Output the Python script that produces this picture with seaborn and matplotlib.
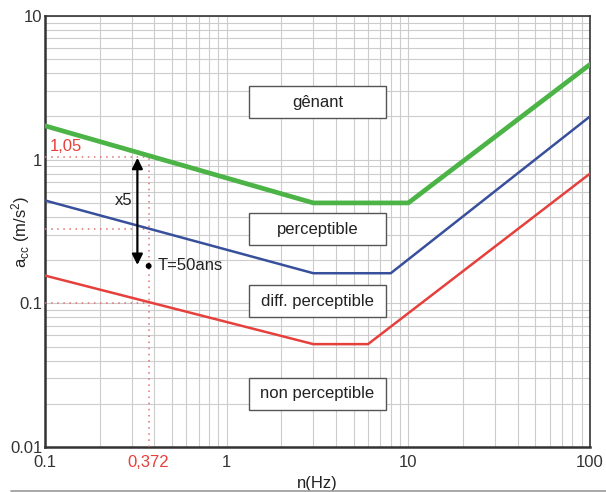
import matplotlib
matplotlib.use("Agg")
import matplotlib.pyplot as plt
import seaborn as sns
import pandas as pd
from matplotlib.patches import Rectangle
from matplotlib.lines import Line2D
from matplotlib.ticker import NullFormatter

# ---- data ----
freq_green = [0.1, 3.0, 10.0, 100.0]
acc_green = [1.72, 0.5, 0.5, 4.6]
freq_blue = [0.1, 3.0, 8.0, 100.0]
acc_blue = [0.52, 0.162, 0.162, 2.0]
freq_red = [0.1, 3.0, 6.0, 100.0]
acc_red = [0.156, 0.052, 0.052, 0.8]

zone_labels = ["gênant", "perceptible", "diff. perceptible", "non perceptible"]
x_ticks = [0.1, 0.372, 1, 10, 100]
x_ticklabels = ["0.1", "0,372", "1", "10", "100"]
y_ticks = [0.01, 0.1, 1, 10]
y_ticklabels = ["0.01", "0.1", "1", "10"]
ref_freq = 0.372
ref_acc = [1.05, 0.331, 0.1]
dot_acc = 0.182

sns.set_style("white")
plt.rcParams["font.family"] = ["Liberation Sans", "DejaVu Sans"]
plt.rcParams["mathtext.fontset"] = "custom"
plt.rcParams["mathtext.rm"] = "Liberation Sans"
plt.rcParams["mathtext.it"] = "Liberation Sans:italic"

fig = plt.figure(figsize=(6.06, 4.92), dpi=100)
ax = fig.add_axes([45/606, 1-447/492, 545/606, 431/492])
ax.set_xscale("log")
ax.set_yscale("log")

green = "#4cb447"
blue = "#38509b"
red = "#e6403c"
dot_red = "#e07070"

df_g = pd.DataFrame({"n": freq_green, "a": acc_green})
df_b = pd.DataFrame({"n": freq_blue, "a": acc_blue})
df_r = pd.DataFrame({"n": freq_red, "a": acc_red})
sns.lineplot(data=df_g, x="n", y="a", sort=False, color=green, lw=3.4, ax=ax, zorder=5)
sns.lineplot(data=df_b, x="n", y="a", sort=False, color=blue, lw=1.8, ax=ax, zorder=5)
sns.lineplot(data=df_r, x="n", y="a", sort=False, color=red, lw=1.8, ax=ax, zorder=5)

ax.set_xlim(0.1, 100)
ax.set_ylim(0.01, 10)

# reference dotted lines
ax.plot([ref_freq, ref_freq], [0.01, ref_acc[0]], ls=(0, (1, 3)), color=dot_red, lw=1.1, zorder=4)
for v in ref_acc:
    ax.plot([0.1, ref_freq], [v, v], ls=(0, (1, 3)), color=dot_red, lw=1.1, zorder=4)
ax.text(0.106, 1.23, "1,05", color=red, fontsize=12, ha="left", va="center")

# arrow x5
ax.annotate("", xy=(0.3225, 0.185), xytext=(0.3225, 1.03),
            arrowprops=dict(arrowstyle="<|-|>", color="black", lw=1.6, mutation_scale=16,
                            shrinkA=0, shrinkB=0), zorder=6)
ax.text(0.302, 0.52, "x5", fontsize=12, ha="right", va="center", color="#222222")
sns.scatterplot(x=[ref_freq], y=[dot_acc], color="black", s=18, ax=ax, zorder=7, edgecolor="none")
ax.text(0.417, dot_acc, "T=50ans", fontsize=12, ha="left", va="center", color="#222222")

# zone boxes
box_y = [0.800, 0.505, 0.338, 0.123]
for lab, yc in zip(zone_labels, box_y):
    ax.add_patch(Rectangle((0.374, yc - 0.037), 0.252, 0.074, transform=ax.transAxes,
                           facecolor="white", edgecolor="#555555", lw=1.0, zorder=8))
    ax.text(0.5, yc, lab, transform=ax.transAxes, ha="center", va="center",
            fontsize=12, color="#222222", zorder=9)

# grid
ax.grid(True, which="both", color="#cccccc", lw=0.8)
ax.set_axisbelow(True)
ax.set_xticks(x_ticks)
ax.set_xticklabels(x_ticklabels)
ax.set_yticks(y_ticks)
ax.set_yticklabels(y_ticklabels)
ax.xaxis.set_minor_formatter(NullFormatter())
ax.yaxis.set_minor_formatter(NullFormatter())
ax.tick_params(which="both", length=0, labelsize=12, colors="#333333")
ax.tick_params(axis="x", pad=6)
ax.tick_params(axis="y", pad=2)
fig.canvas.draw()
ax.xaxis.get_major_ticks()[1].gridline.set_visible(False)
ax.get_xticklabels()[1].set_color(red)

for s in ax.spines.values():
    s.set_color("#333333")
    s.set_linewidth(1.2)
ax.spines["left"].set_linewidth(1.8)
ax.spines["bottom"].set_linewidth(1.8)

ax.set_xlabel("n(Hz)", fontsize=12, color="#222222", labelpad=4)
ax.set_ylabel(r"a$_{\rm cc}$ (m/s$^2$)", fontsize=12, color="#222222")
ax.yaxis.set_label_coords(-0.024, 0.5)

fig.add_artist(Line2D([11/606, 1], [1.5/492, 1.5/492], color="#999999", lw=1.2))

fig.savefig("out.png", dpi=100)
